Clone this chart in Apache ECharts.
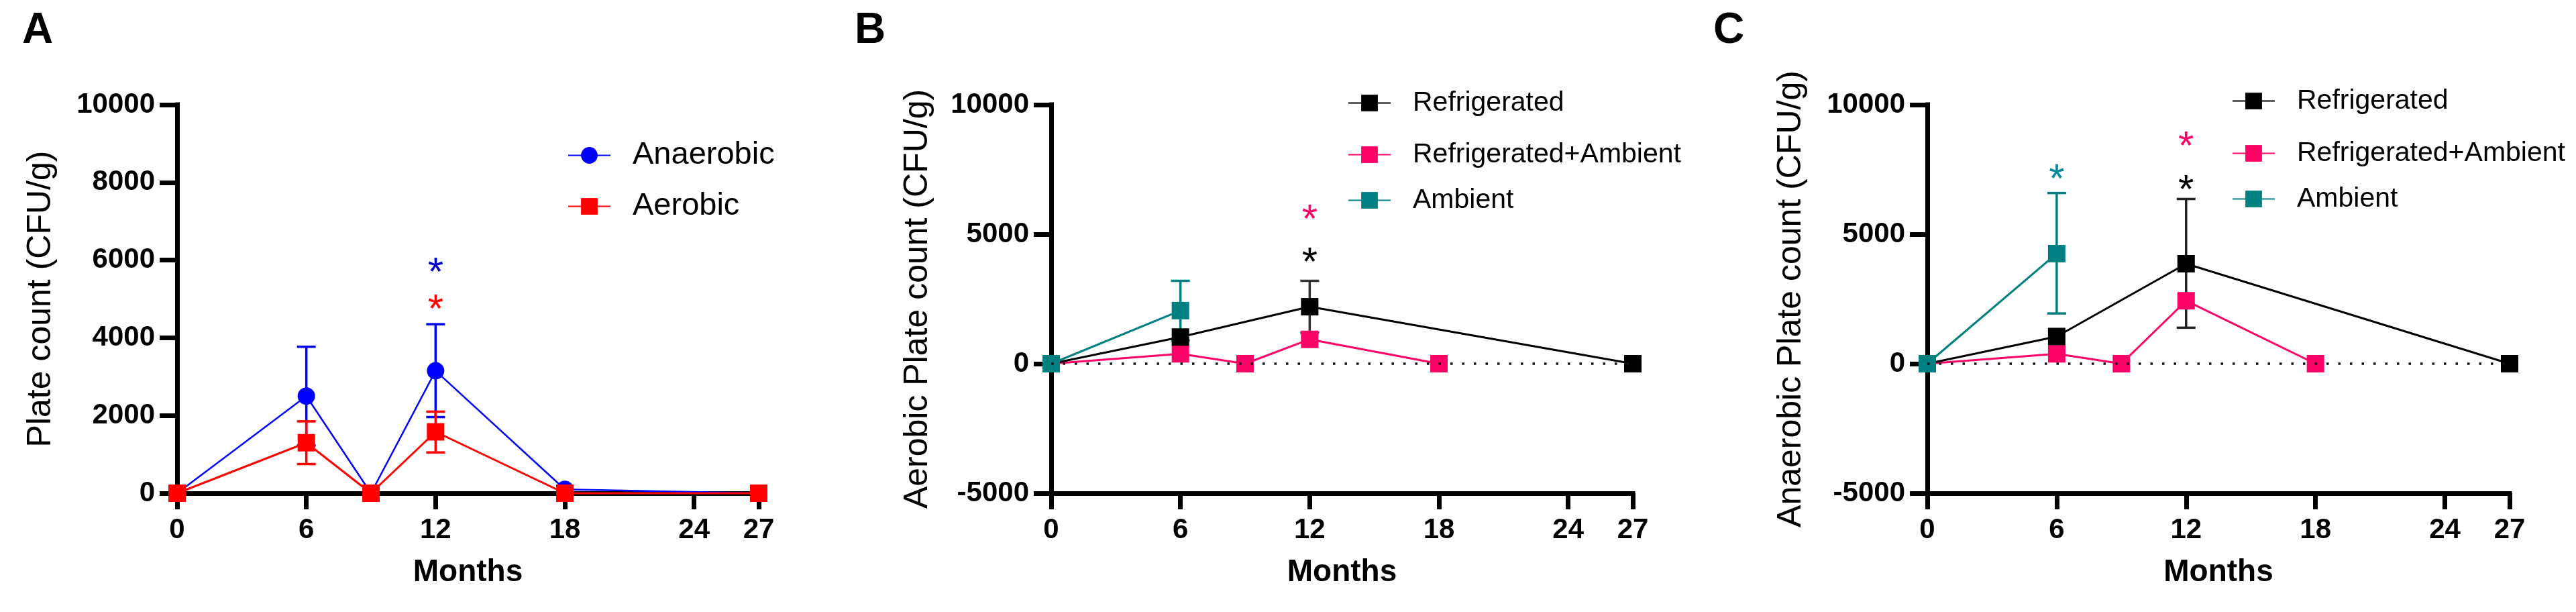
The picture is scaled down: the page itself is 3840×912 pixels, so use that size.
<!DOCTYPE html>
<html>
<head>
<meta charset="utf-8">
<script src="https://cdn.jsdelivr.net/npm/echarts@6/dist/echarts.min.js"></script>
<style>
html,body{margin:0;padding:0;background:#fff;}
#chart{width:3840px;height:912px;}
</style>
</head>
<body>
<div id="chart"></div>
<script>
// ---------------- DATA ----------------
const xTicks = [0, 6, 12, 18, 24, 27];

// Panel A
const aAnaerobicX = [0, 6, 9, 12, 18, 27];
const aAnaerobicY = [0, 2500, 0, 3150, 100, 0];
const aAerobicX = [0, 6, 9, 12, 18, 27];
const aAerobicY = [0, 1300, 0, 1580, 0, 0];
const aAnaerobicErr = [[6, 1230, 3770], [12, 1960, 4350]];
const aAerobicErr = [[6, 750, 1850], [12, 1050, 2100]];
const aStarAnaerobic = [[12, 5880]];
const aStarAerobic = [[12, 4925]];

// Panel B (Aerobic)
const bRefX = [0, 6, 12, 27];
const bRefY = [0, 1030, 2200, 0];
const bRefAmbX = [0, 6, 9, 12, 18];
const bRefAmbY = [0, 380, 0, 940, 0];
const bAmbX = [0, 6];
const bAmbY = [0, 2050];
const bRefErr = [[12, 1200, 3200]];
const bAmbErr = [[6, 900, 3200]];
const bStarRefAmb = [[12, 5860]];
const bStarRef = [[12, 4200]];

// Panel C (Anaerobic)
const cRefX = [0, 6, 12, 27];
const cRefY = [0, 1050, 3860, 0];
const cRefAmbX = [0, 6, 9, 12, 18];
const cRefAmbY = [0, 380, 0, 2430, 0];
const cAmbX = [0, 6];
const cAmbY = [0, 4250];
const cRefErr = [[12, 1390, 6360]];
const cAmbErr = [[6, 1940, 6590]];
const cStarAmb = [[6, 7420]];
const cStarRefAmb = [[12, 8680]];
const cStarRef = [[12, 7000]];

const zeroLine = 0;

// ---------------- STYLE ----------------
const FONT = "'Liberation Sans', Arial, Helvetica, sans-serif";
const BLUE = '#0000FF', RED = '#FF0000', BLACK = '#000000', PINK = '#FF0066', TEAL = '#008080';

function zip(xs, ys) { return xs.map((x, i) => [x, ys[i]]); }
function plain(v) { return String(v); }

function xAxisCfg(gi) {
  return {
    gridIndex: gi, type: 'value', min: 0, max: 27, interval: 3,
    axisLine: { show: true, onZero: false, lineStyle: { color: '#000', width: 7, cap: 'square' } },
    axisTick: { show: true, length: 24, customValues: xTicks, lineStyle: { color: '#000', width: 7 } },
    axisLabel: { customValues: xTicks, formatter: plain, fontSize: 42, fontWeight: 'bold', margin: 34, color: '#000', fontFamily: FONT },
    splitLine: { show: false },
    name: 'Months', nameLocation: 'middle', nameGap: 95,
    nameTextStyle: { fontSize: 46, fontWeight: 'bold', color: '#000', fontFamily: FONT }
  };
}
function yAxisCfg(gi, min, max, interval, name, gap) {
  return {
    gridIndex: gi, type: 'value', min: min, max: max, interval: interval,
    axisLine: { show: true, onZero: false, lineStyle: { color: '#000', width: 7, cap: 'square' } },
    axisTick: { show: true, length: 26, lineStyle: { color: '#000', width: 7 } },
    axisLabel: { formatter: plain, fontSize: 42, fontWeight: 'bold', margin: 33, color: '#000', fontFamily: FONT },
    splitLine: { show: false },
    name: name, nameLocation: 'middle', nameGap: gap,
    nameTextStyle: { fontSize: 50, color: '#000', fontFamily: FONT }
  };
}
function lineSeries(name, gi, data, color, symbol, extra) {
  return Object.assign({
    name: name, type: 'line', xAxisIndex: gi, yAxisIndex: gi,
    data: data, symbol: symbol, symbolSize: 26, clip: false,
    itemStyle: { color: color },
    lineStyle: { color: color, width: 3 },
    emphasis: { disabled: true }, animation: false
  }, extra || {});
}
function errSeries(name, gi, data, color) {
  return {
    name: name, type: 'custom', xAxisIndex: gi, yAxisIndex: gi, data: data,
    encode: { x: 0, y: [1, 2] }, animation: false, silent: true,
    renderItem: function (params, api) {
      const x = api.value(0);
      const lo = api.coord([x, api.value(1)]);
      const hi = api.coord([x, api.value(2)]);
      const w = 14;
      const st = { stroke: color, lineWidth: 3.5 };
      return { type: 'group', children: [
        { type: 'line', shape: { x1: lo[0], y1: lo[1], x2: hi[0], y2: hi[1] }, style: st },
        { type: 'line', shape: { x1: hi[0] - w, y1: hi[1], x2: hi[0] + w, y2: hi[1] }, style: st },
        { type: 'line', shape: { x1: lo[0] - w, y1: lo[1], x2: lo[0] + w, y2: lo[1] }, style: st }
      ]};
    }
  };
}
function starSeries(name, gi, data, color) {
  return {
    name: name, type: 'custom', xAxisIndex: gi, yAxisIndex: gi, data: data,
    encode: { x: 0, y: 1 }, animation: false, silent: true, z: 5,
    renderItem: function (params, api) {
      const p = api.coord([api.value(0), api.value(1)]);
      return { type: 'text', x: p[0], y: p[1] + 14,
        style: { text: '*', fill: color, font: '60px ' + FONT, align: 'center', verticalAlign: 'middle' } };
    }
  };
}
// one legend per entry; "top" = row centre minus half the text line height
function legendCfg(name, left, centerY, fontSize) {
  return {
    data: [name], orient: 'vertical', left: left, top: Math.round(centerY - fontSize / 2),
    itemWidth: 63, itemHeight: 31, itemGap: 0, selectedMode: false,
    textStyle: { fontSize: fontSize, color: '#000', fontFamily: FONT, padding: [0, 0, 0, 28] }
  };
}

const chart = echarts.init(document.getElementById('chart'), null, { renderer: 'canvas' });

const option = {
  backgroundColor: '#fff',
  animation: false,
  grid: [
    { left: 264, top: 156, width: 867, height: 579 },
    { left: 1567, top: 156, width: 867, height: 579 },
    { left: 2873, top: 156, width: 868, height: 579 }
  ],
  xAxis: [xAxisCfg(0), xAxisCfg(1), xAxisCfg(2)],
  yAxis: [
    yAxisCfg(0, 0, 10000, 2000, 'Plate count (CFU/g)', 178),
    yAxisCfg(1, -5000, 10000, 5000, 'Aerobic Plate count (CFU/g)', 174),
    yAxisCfg(2, -5000, 10000, 5000, 'Anaerobic Plate count (CFU/g)', 178)
  ],
  legend: [
    legendCfg('Anaerobic', 841, 226, 47),
    legendCfg('Aerobic', 841, 302, 47),
    legendCfg('Refrigerated', 2004, 148, 41),
    legendCfg('Refrigerated+Ambient', 2004, 225, 41),
    legendCfg('Ambient', 2004, 293, 41),
    legendCfg('Refrigerated', 3322, 145, 41),
    legendCfg('Refrigerated+Ambient', 3322, 223, 41),
    legendCfg('Ambient', 3322, 291, 41)
  ],
  graphic: [
    { type: 'text', left: 33, top: 14, style: { text: 'A', font: 'bold 64px ' + FONT, fill: '#000' } },
    { type: 'text', left: 1274, top: 14, style: { text: 'B', font: 'bold 64px ' + FONT, fill: '#000' } },
    { type: 'text', left: 2554, top: 14, style: { text: 'C', font: 'bold 64px ' + FONT, fill: '#000' } }
  ],
  series: [
    // Panel A
    errSeries('errAnaerobic', 0, aAnaerobicErr, BLUE),
    lineSeries('Anaerobic', 0, zip(aAnaerobicX, aAnaerobicY), BLUE, 'circle', { lineStyle: { color: BLUE, width: 2.5 } }),
    errSeries('errAerobic', 0, aAerobicErr, RED),
    lineSeries('Aerobic', 0, zip(aAerobicX, aAerobicY), RED, 'rect'),
    starSeries('starAnaerobic', 0, aStarAnaerobic, '#0000C8'),
    starSeries('starAerobic', 0, aStarAerobic, RED),

    // Panel B
    lineSeries('Refrigerated+Ambient', 1, zip(bRefAmbX, bRefAmbY), PINK, 'rect', {
      markLine: { silent: true, symbol: 'none', label: { show: false },
        lineStyle: { color: '#111', width: 3.5, type: [3.5, 14], opacity: 1 }, data: [{ yAxis: zeroLine }] }
    }),
    errSeries('errRefB', 1, bRefErr, '#333'),
    lineSeries('Refrigerated', 1, zip(bRefX, bRefY), BLACK, 'rect'),
    errSeries('errAmbB', 1, bAmbErr, TEAL),
    lineSeries('Ambient', 1, zip(bAmbX, bAmbY), TEAL, 'rect'),
    starSeries('starRefAmbB', 1, bStarRefAmb, PINK),
    starSeries('starRefB', 1, bStarRef, BLACK),

    // Panel C
    lineSeries('Refrigerated+Ambient', 2, zip(cRefAmbX, cRefAmbY), PINK, 'rect', {
      markLine: { silent: true, symbol: 'none', label: { show: false },
        lineStyle: { color: '#111', width: 3.5, type: [3.5, 14], opacity: 1 }, data: [{ yAxis: zeroLine }] }
    }),
    errSeries('errRefC', 2, cRefErr, '#222'),
    lineSeries('Refrigerated', 2, zip(cRefX, cRefY), BLACK, 'rect'),
    errSeries('errAmbC', 2, cAmbErr, TEAL),
    lineSeries('Ambient', 2, zip(cAmbX, cAmbY), TEAL, 'rect'),
    starSeries('starAmbC', 2, cStarAmb, '#00899A'),
    starSeries('starRefAmbC', 2, cStarRefAmb, PINK),
    starSeries('starRefC', 2, cStarRef, BLACK)
  ]
};
chart.setOption(option);
</script>
</body>
</html>
